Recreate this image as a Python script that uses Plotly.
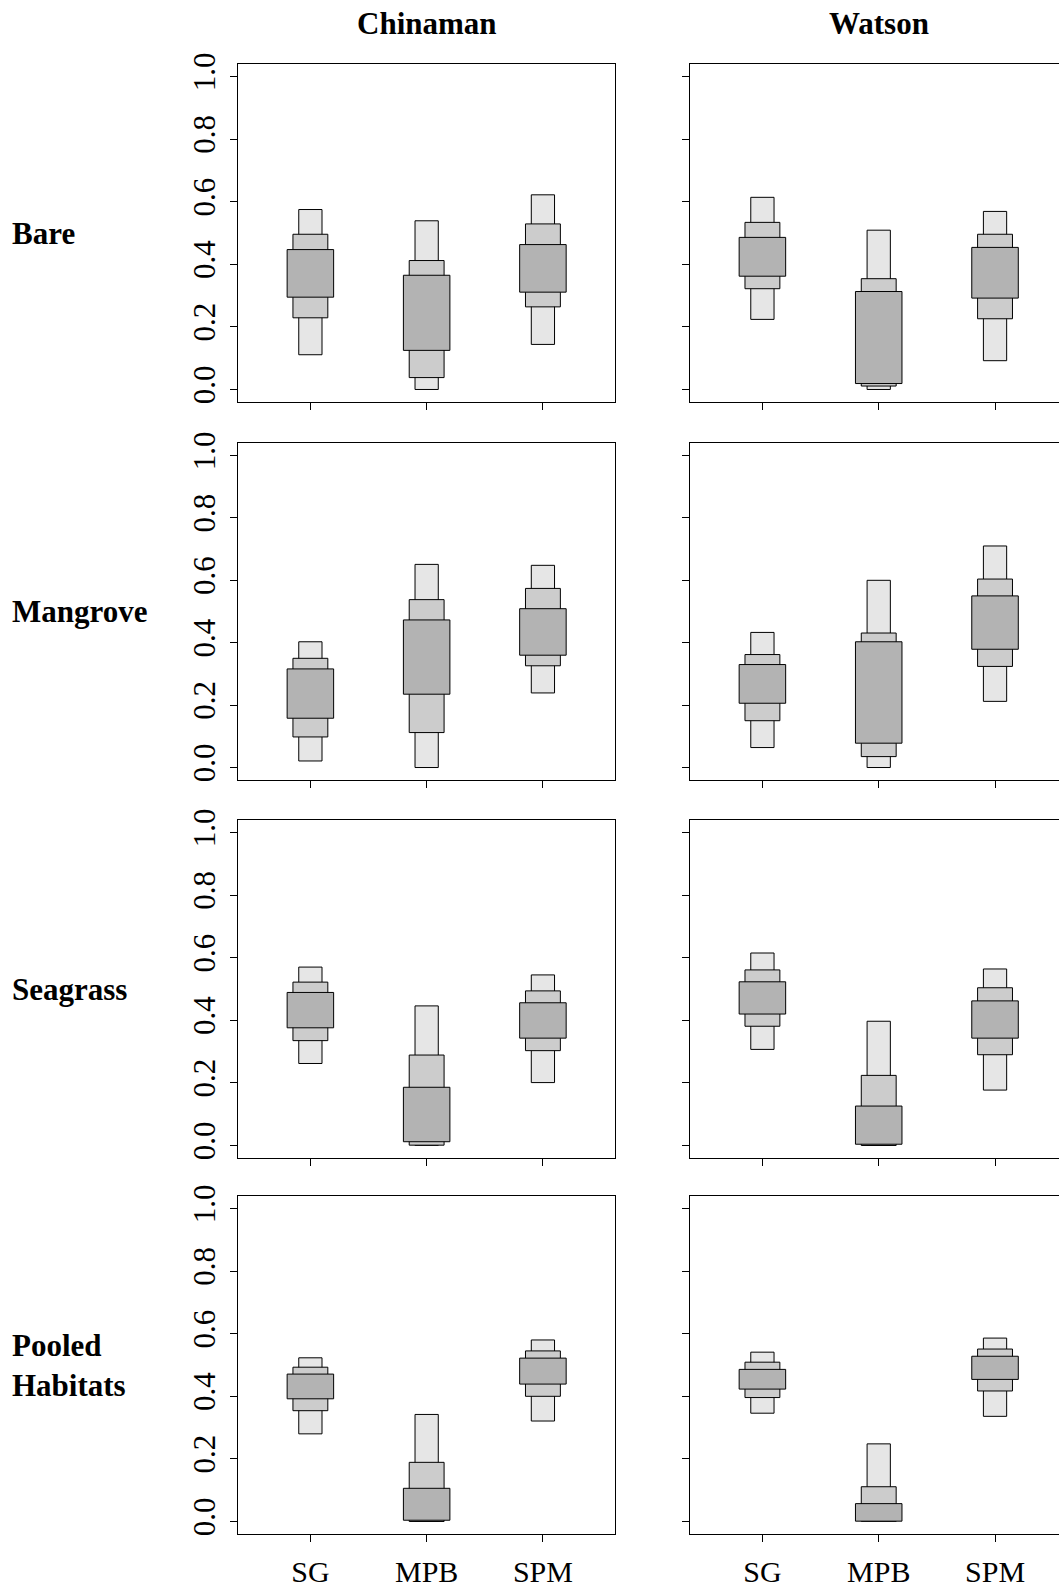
import plotly.graph_objects as go

# ---------------- data ----------------
sources = ["SG", "MPB", "SPM"]
sites = ["Chinaman", "Watson"]
habitats = ["Bare", "Mangrove", "Seagrass", "Pooled<br>Habitats"]
y_ticks = [0.0, 0.2, 0.4, 0.6, 0.8, 1.0]
y_tick_labels = ["0.0", "0.2", "0.4", "0.6", "0.8", "1.0"]

# credible intervals per panel: [SG, MPB, SPM]
# 95% interval (light), 75% (mid), 50% (dark)
chinaman_bare_95_lo = [0.111, 0.000, 0.144]
chinaman_bare_95_hi = [0.575, 0.539, 0.622]
chinaman_bare_75_lo = [0.229, 0.038, 0.264]
chinaman_bare_75_hi = [0.496, 0.412, 0.529]
chinaman_bare_50_lo = [0.295, 0.125, 0.311]
chinaman_bare_50_hi = [0.447, 0.365, 0.463]

watson_bare_95_lo = [0.224, 0.000, 0.092]
watson_bare_95_hi = [0.614, 0.509, 0.569]
watson_bare_75_lo = [0.322, 0.011, 0.226]
watson_bare_75_hi = [0.534, 0.354, 0.496]
watson_bare_50_lo = [0.362, 0.019, 0.292]
watson_bare_50_hi = [0.486, 0.313, 0.454]

chinaman_mangrove_95_lo = [0.021, 0.000, 0.239]
chinaman_mangrove_95_hi = [0.403, 0.651, 0.648]
chinaman_mangrove_75_lo = [0.098, 0.112, 0.326]
chinaman_mangrove_75_hi = [0.350, 0.538, 0.574]
chinaman_mangrove_50_lo = [0.158, 0.235, 0.360]
chinaman_mangrove_50_hi = [0.316, 0.473, 0.509]

watson_mangrove_95_lo = [0.064, 0.000, 0.212]
watson_mangrove_95_hi = [0.433, 0.600, 0.710]
watson_mangrove_75_lo = [0.150, 0.035, 0.324]
watson_mangrove_75_hi = [0.362, 0.431, 0.604]
watson_mangrove_50_lo = [0.206, 0.078, 0.379]
watson_mangrove_50_hi = [0.330, 0.403, 0.550]

chinaman_seagrass_95_lo = [0.262, 0.000, 0.201]
chinaman_seagrass_95_hi = [0.570, 0.446, 0.545]
chinaman_seagrass_75_lo = [0.335, 0.001, 0.303]
chinaman_seagrass_75_hi = [0.522, 0.289, 0.494]
chinaman_seagrass_50_lo = [0.376, 0.012, 0.343]
chinaman_seagrass_50_hi = [0.489, 0.186, 0.456]

watson_seagrass_95_lo = [0.307, 0.000, 0.177]
watson_seagrass_95_hi = [0.615, 0.397, 0.564]
watson_seagrass_75_lo = [0.381, 0.000, 0.290]
watson_seagrass_75_hi = [0.561, 0.224, 0.504]
watson_seagrass_50_lo = [0.420, 0.004, 0.343]
watson_seagrass_50_hi = [0.523, 0.126, 0.462]

chinaman_pooled_95_lo = [0.280, 0.000, 0.321]
chinaman_pooled_95_hi = [0.523, 0.342, 0.580]
chinaman_pooled_75_lo = [0.354, 0.000, 0.400]
chinaman_pooled_75_hi = [0.493, 0.189, 0.545]
chinaman_pooled_50_lo = [0.392, 0.004, 0.439]
chinaman_pooled_50_hi = [0.471, 0.106, 0.522]

watson_pooled_95_lo = [0.346, 0.000, 0.336]
watson_pooled_95_hi = [0.541, 0.248, 0.586]
watson_pooled_75_lo = [0.396, 0.000, 0.417]
watson_pooled_75_hi = [0.509, 0.111, 0.551]
watson_pooled_50_lo = [0.423, 0.001, 0.454]
watson_pooled_50_hi = [0.486, 0.057, 0.528]

panels = [
    [  # Bare
        [(chinaman_bare_95_lo, chinaman_bare_95_hi), (chinaman_bare_75_lo, chinaman_bare_75_hi), (chinaman_bare_50_lo, chinaman_bare_50_hi)],
        [(watson_bare_95_lo, watson_bare_95_hi), (watson_bare_75_lo, watson_bare_75_hi), (watson_bare_50_lo, watson_bare_50_hi)],
    ],
    [  # Mangrove
        [(chinaman_mangrove_95_lo, chinaman_mangrove_95_hi), (chinaman_mangrove_75_lo, chinaman_mangrove_75_hi), (chinaman_mangrove_50_lo, chinaman_mangrove_50_hi)],
        [(watson_mangrove_95_lo, watson_mangrove_95_hi), (watson_mangrove_75_lo, watson_mangrove_75_hi), (watson_mangrove_50_lo, watson_mangrove_50_hi)],
    ],
    [  # Seagrass
        [(chinaman_seagrass_95_lo, chinaman_seagrass_95_hi), (chinaman_seagrass_75_lo, chinaman_seagrass_75_hi), (chinaman_seagrass_50_lo, chinaman_seagrass_50_hi)],
        [(watson_seagrass_95_lo, watson_seagrass_95_hi), (watson_seagrass_75_lo, watson_seagrass_75_hi), (watson_seagrass_50_lo, watson_seagrass_50_hi)],
    ],
    [  # Pooled
        [(chinaman_pooled_95_lo, chinaman_pooled_95_hi), (chinaman_pooled_75_lo, chinaman_pooled_75_hi), (chinaman_pooled_50_lo, chinaman_pooled_50_hi)],
        [(watson_pooled_95_lo, watson_pooled_95_hi), (watson_pooled_75_lo, watson_pooled_75_hi), (watson_pooled_50_lo, watson_pooled_50_hi)],
    ],
]

# ---------------- styling / layout ----------------
W, H = 1059, 1589
FONT = "Liberation Serif"
level_colors = ["#e6e6e6", "#cccccc", "#b3b3b3"]
level_widths = [0.2, 0.3, 0.4]
x_pos = [1, 2, 3]

# panel frame positions in page pixels
row_top_px = [64, 443, 820, 1196]
row_bot_px = [402, 780, 1158, 1534]
col_left_px = [238.3, 690.3]
col_right_px = [615.0, 1059.0]
col_xrange = [[0.38, 3.62], [0.38, 3.55]]
col_center_px = [426.7, 878.7]


def px_x(p):
    return p / W


def px_y(p):
    return 1 - p / H


fig = go.Figure()
layout = dict(
    width=W, height=H,
    margin=dict(l=0, r=0, t=0, b=0, autoexpand=False),
    paper_bgcolor="white", plot_bgcolor="white",
    showlegend=False, barmode="overlay",
    font=dict(family=FONT, color="black"),
)

k = 0
for r in range(4):
    for c in range(2):
        k += 1
        xa = "x" if k == 1 else f"x{k}"
        ya = "y" if k == 1 else f"y{k}"
        for lvl in range(3):
            lo, hi = panels[r][c][lvl]
            fig.add_trace(go.Bar(
                x=x_pos, base=lo, y=[h - l for l, h in zip(lo, hi)],
                width=level_widths[lvl],
                marker=dict(color=level_colors[lvl], line=dict(color="black", width=1)),
                xaxis=xa, yaxis=ya, hoverinfo="skip",
            ))
        xkey = "xaxis" if k == 1 else f"xaxis{k}"
        ykey = "yaxis" if k == 1 else f"yaxis{k}"
        layout[xkey] = dict(
            domain=[px_x(col_left_px[c]), min(1.0, px_x(col_right_px[c]))],
            range=col_xrange[c], anchor=ya, automargin=False,
            showline=True, linecolor="black", linewidth=1, mirror=True,
            showgrid=False, zeroline=False,
            tickmode="array", tickvals=x_pos,
            ticktext=sources if r == 3 else ["", "", ""],
            ticks="outside", ticklen=7, tickcolor="black", tickwidth=1,
            tickfont=dict(family=FONT, size=30, color="black"),
            ticklabelstandoff=4,
        )
        layout[ykey] = dict(
            domain=[px_y(row_bot_px[r]), px_y(row_top_px[r])],
            range=[-0.04, 1.04], anchor=xa, automargin=False,
            showline=True, linecolor="black", linewidth=1, mirror=(c == 0),
            showgrid=False, zeroline=False,
            tickmode="array", tickvals=y_ticks,
            ticktext=y_tick_labels if c == 0 else [""] * 6,
            ticks="outside", ticklen=7, tickcolor="black", tickwidth=1,
            tickangle=-90, ticklabelstandoff=3,
            tickfont=dict(family=FONT, size=31, color="black"),
        )

annotations = []
for c, name in enumerate(sites):
    annotations.append(dict(
        text=name, x=px_x(col_center_px[c]), y=px_y(23), xref="paper", yref="paper",
        showarrow=False, xanchor="center", yanchor="middle",
        font=dict(family=FONT, size=31, color="black", weight="bold"),
    ))
for r, name in enumerate(habitats):
    cy = (row_top_px[r] + row_bot_px[r]) / 2
    annotations.append(dict(
        text=name, x=px_x(10), y=px_y(cy), xref="paper", yref="paper",
        showarrow=False, xanchor="left", yanchor="middle", align="left",
        font=dict(family=FONT, size=31, color="black", weight="bold"),
    ))
layout["annotations"] = annotations

fig.update_layout(**layout)
fig.write_html(
    "out.html",
    config={"displayModeBar": False, "staticPlot": True},
    post_script="document.body.style.margin='0';"
                "document.documentElement.style.overflow='hidden';",
)
